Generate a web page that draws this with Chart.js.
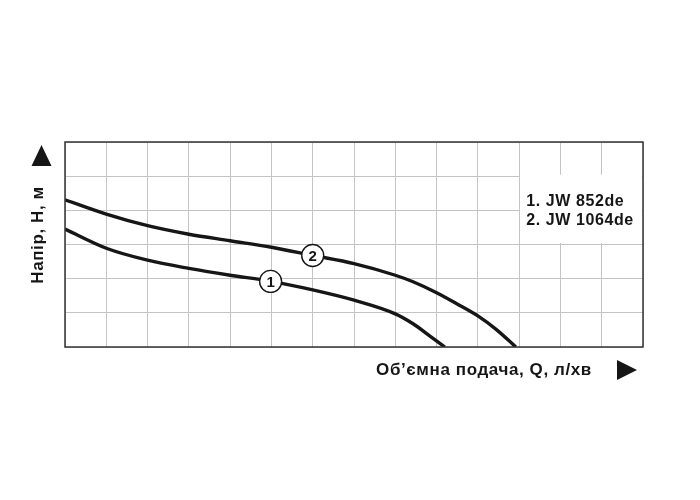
<!DOCTYPE html>
<html>
<head>
<meta charset="utf-8">
<script src="https://cdn.jsdelivr.net/npm/chart.js@4"></script>
<style>
  html, body { margin: 0; padding: 0; background: #fff; }
  #wrap { width: 700px; height: 500px; }
</style>
</head>
<body>
<div id="wrap"><canvas id="chart"></canvas></div>
<script>
// Pump curves, in grid units (14 columns x 6 rows, no tick values shown)
const flow1 = [0, 1, 2, 3, 4, 5, 6, 7, 8, 8.43, 8.84, 9.2];
const head1 = [3.45, 2.89, 2.54, 2.30, 2.10, 1.92, 1.67, 1.37, 0.97, 0.68, 0.32, 0];
const flow2 = [0, 1, 2, 3, 4, 5, 6, 7, 8, 8.43, 9, 9.5, 10, 10.45, 10.92];
const head2 = [4.31, 3.89, 3.55, 3.30, 3.11, 2.92, 2.68, 2.44, 2.10, 1.91, 1.59, 1.26, 0.91, 0.51, 0];

// Numbered circles sitting on the curves
const markerLabels = ['1', '2'];
const markerFlow = [4.98, 6.0];
const markerHead = [1.92, 2.68];

const legendLines = ['1. JW 852de', '2. JW 1064de'];
const xTitle = 'Об\u2019ємна подача, Q, л/хв';
const yTitle = 'Напір, H, м';

const FONT = '"Liberation Sans", Arial, sans-serif';
const INK = '#161616';

function toPoints(xs, ys) {
  return xs.map((v, i) => ({ x: v, y: ys[i] }));
}

const decorPlugin = {
  id: 'decor',
  beforeDatasetsDraw(chart) {
    const { ctx, scales: { x, y } } = chart;
    // white box over the grid where the model list sits
    const l = x.getPixelForValue(11), r = x.getPixelForValue(14);
    const t = y.getPixelForValue(5), b = y.getPixelForValue(3);
    ctx.save();
    ctx.fillStyle = '#fff';
    ctx.fillRect(l + 1, t - 1.5, r - l - 2, b - t);
    ctx.restore();
  },
  afterDatasetsDraw(chart) {
    const { ctx, chartArea: a, scales: { x, y } } = chart;
    ctx.save();

    // frame
    ctx.strokeStyle = '#333';
    ctx.lineWidth = 1.5;
    ctx.strokeRect(a.left, a.top, a.right - a.left, a.bottom - a.top);

    // circled numbers
    markerLabels.forEach((lab, i) => {
      const cx = x.getPixelForValue(markerFlow[i]);
      const cy = y.getPixelForValue(markerHead[i]);
      ctx.beginPath();
      ctx.arc(cx, cy, 11, 0, Math.PI * 2);
      ctx.fillStyle = '#fff';
      ctx.fill();
      ctx.lineWidth = 1.4;
      ctx.strokeStyle = INK;
      ctx.stroke();
      ctx.fillStyle = INK;
      ctx.font = 'bold 15px ' + FONT;
      ctx.textAlign = 'center';
      ctx.textBaseline = 'middle';
      ctx.fillText(lab, cx, cy + 1);
    });

    // model list
    ctx.fillStyle = INK;
    ctx.font = 'bold 16px ' + FONT;
    ctx.letterSpacing = '0.6px';
    ctx.textAlign = 'left';
    ctx.textBaseline = 'middle';
    const lx = x.getPixelForValue(11) + 7;
    legendLines.forEach((txt, i) => {
      ctx.fillText(txt, lx, 202 + i * 18.5);
    });
    ctx.restore();
  },
  afterDraw(chart) {
    const { ctx } = chart;
    ctx.save();
    ctx.fillStyle = INK;
    ctx.font = 'bold 17px ' + FONT;
    ctx.letterSpacing = '0.6px';

    // x title + arrow
    ctx.textAlign = 'center';
    ctx.textBaseline = 'middle';
    ctx.fillText(xTitle, 484, 370);
    ctx.beginPath();
    ctx.moveTo(617, 360);
    ctx.lineTo(637, 370);
    ctx.lineTo(617, 380);
    ctx.closePath();
    ctx.fill();

    // y title + arrow
    ctx.save();
    ctx.translate(38, 235);
    ctx.rotate(-Math.PI / 2);
    ctx.fillText(yTitle, 0, 0);
    ctx.restore();
    ctx.beginPath();
    ctx.moveTo(31.5, 166);
    ctx.lineTo(41.5, 145);
    ctx.lineTo(51.5, 166);
    ctx.closePath();
    ctx.fill();
    ctx.restore();
  }
};

const curveStyle = {
  borderColor: INK,
  borderWidth: 3.4,
  pointRadius: 0,
  fill: false,
  cubicInterpolationMode: 'monotone'
};

new Chart(document.getElementById('chart'), {
  type: 'line',
  data: {
    datasets: [
      Object.assign({ label: 'JW 852de', data: toPoints(flow1, head1) }, curveStyle),
      Object.assign({ label: 'JW 1064de', data: toPoints(flow2, head2) }, curveStyle)
    ]
  },
  options: {
    responsive: true,
    maintainAspectRatio: false,
    animation: false,
    layout: { padding: { left: 65, top: 142, right: 57, bottom: 153 } },
    plugins: {
      legend: { display: false },
      tooltip: { enabled: false }
    },
    scales: {
      x: {
        type: 'linear',
        min: 0,
        max: 14,
        ticks: { display: false, stepSize: 1 },
        grid: { color: '#c4c4c4', lineWidth: 1, drawTicks: false, tickLength: 0 },
        border: { display: false }
      },
      y: {
        min: 0,
        max: 6,
        ticks: { display: false, stepSize: 1 },
        grid: { color: '#c4c4c4', lineWidth: 1, drawTicks: false, tickLength: 0 },
        border: { display: false }
      }
    }
  },
  plugins: [decorPlugin]
});
</script>
</body>
</html>
